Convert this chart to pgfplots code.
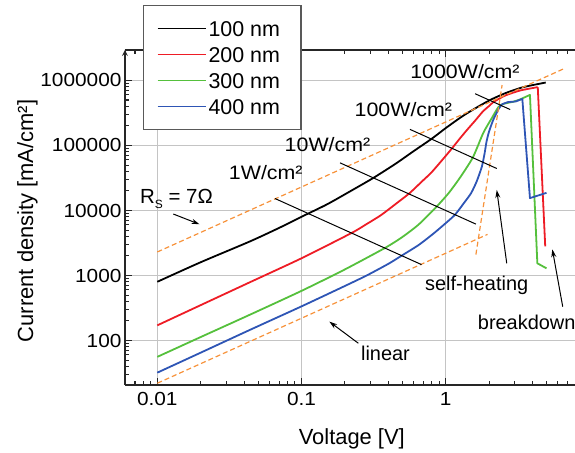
\documentclass[border=0pt]{standalone}
\usepackage{fontspec}
\setmainfont{Liberation Sans}
\newfontfamily\widesans[FakeStretch=1.1]{Liberation Sans}
\usepackage{pgfplots}
\pgfplotsset{compat=1.18}
\usetikzlibrary{arrows.meta}
\definecolor{cRed}{HTML}{EE1C25}
\definecolor{cGreen}{HTML}{55C03C}
\definecolor{cBlue}{HTML}{2E55B5}
\definecolor{cOrange}{HTML}{F7923A}
\definecolor{cGrid}{HTML}{C4C4C4}

\begin{document}
\begin{tikzpicture}
\begin{axis}[name=ax, scale only axis, width=450bp, height=335bp,
  xmode=log, ymode=log,
  xmin=0.00597, xmax=7.883, ymin=20.67, ymax=2.944e6,
  axis x line=box, axis y line=left,
  every non boxed y axis/.style={ytick align=inside},
  axis line style={black!85, line width=1.6bp},
  every tick/.style={black!85, line width=1.1bp},
  major tick length=7bp, minor tick length=4bp,
  tick align=inside,
  grid=major, major grid style={cGrid, line width=0.9bp},
  log ticks with fixed point,
  /pgf/number format/1000 sep={},
  /pgf/number format/assume math mode=true,
  tick label style={font=\widesans\fontsize{19}{22}\selectfont},
  xticklabel style={yshift=-4bp},
  label style={font=\fontsize{22}{26}\selectfont},
  xlabel={Voltage [V]},
  ylabel={Current density [mA/cm²]},
  xlabel style={at={(axis description cs:0.504,-0.178)}, anchor=base},
  ylabel style={at={(axis description cs:-0.2044,0.49)}, anchor=base},
  clip=false,
  legend image code/.code={\draw[#1] (0bp,0bp) -- (48bp,0bp);},
  legend cell align=left,
  legend style={at={(axis description cs:0.04,1.135)}, anchor=north west,
    font=\fontsize{21.5}{24}\selectfont, draw=black!65, line width=1.5bp,
    fill=white, inner xsep=13bp, inner ysep=14bp, row sep=8bp,
    nodes={inner xsep=2bp, inner ysep=0bp, text height=17bp, text depth=1bp}},
]
% measured curves
\addplot[black, line width=1.8bp, smooth, tension=0.4] coordinates {
  (0.01,800) (0.02,1600) (0.044,3350) (0.07,5400) (0.1,8000) (0.15,12400)
  (0.22,20000) (0.315,31700) (0.45,52500) (0.6,82000) (0.8,127000)
  (1.0,185000) (1.3,280000) (1.6,372000) (2.03,500000) (2.6,640000)
  (3.45,790000) (4.94,930000)};
\addlegendentry{100 nm\hspace*{6bp}}
\addplot[cRed, line width=1.8bp, smooth, tension=0.4] coordinates {
  (0.01,171) (0.02,350) (0.044,790) (0.1,1840) (0.223,4520) (0.28,6100)
  (0.355,8450) (0.45,12600) (0.562,18500) (0.68,27600) (0.794,38200)
  (0.93,57200) (1.1,89000) (1.25,127000) (1.41,175000) (1.6,241000)
  (1.82,338000) (2.0,405000) (2.14,465000) (2.35,525000) (2.6,590000)
  (3.27,700000) (4.35,790000)};
\addlegendentry{200 nm\hspace*{6bp}}
\addplot[cGreen, line width=1.8bp, smooth, tension=0.4] coordinates {
  (0.01,56) (0.02,113) (0.044,250) (0.1,580) (0.2,1240) (0.379,2650)
  (0.5,3900) (0.65,6100) (0.866,11500) (1.05,18600) (1.25,31500)
  (1.54,65000) (1.82,155000) (2.08,260000) (2.32,390000) (2.5,435000)
  (2.94,470000)};
\addlegendentry{300 nm\hspace*{6bp}}
\addplot[cBlue, line width=1.8bp, smooth, tension=0.4] coordinates {
  (0.01,32) (0.02,65) (0.044,146) (0.1,335) (0.2,690) (0.283,1000)
  (0.4,1510) (0.495,2020) (0.65,2950) (0.82,4390) (1.0,6380) (1.16,8600)
  (1.32,12500) (1.5,18500) (1.64,28000) (1.78,47000) (1.86,75000)
  (1.92,115000) (2.0,165000) (2.14,250000) (2.32,360000) (2.45,430000)};
\addlegendentry{400 nm\hspace*{6bp}}
% high-voltage parts (breakdown)
\addplot[forget plot, cRed, line width=1.8bp, line join=round] coordinates {
  (4.35,790000) (4.9,2800)};
\addplot[forget plot, cGreen, line width=1.8bp, line join=round] coordinates {
  (2.94,470000) (3.27,510000) (3.84,600000) (4.32,1540) (5.0,1290)};
\addplot[forget plot, cBlue, line width=1.8bp, line join=round] coordinates {
  (2.45,430000) (2.7,465000) (3.05,475000) (3.4,520000) (3.84,15500) (5.0,18700)};
% guide lines
\addplot[forget plot, cOrange, line width=1.2bp, dash pattern=on 5bp off 3bp]
  coordinates {(0.01,2300) (6.7,1540000)};
\addplot[forget plot, cOrange, line width=1.2bp, dash pattern=on 5bp off 3bp]
  coordinates {(0.01,22) (1.95,4290)};
\addplot[forget plot, cOrange, line width=1.2bp, dash pattern=on 5bp off 3bp]
  coordinates {(1.62,2100) (2.46,850000)};
% constant power lines
\addplot[forget plot, black, line width=1bp] coordinates {(0.0655,15270) (0.68,1470)};
\addplot[forget plot, black, line width=1bp] coordinates {(0.185,54054) (1.62,6173)};
\addplot[forget plot, black, line width=1bp] coordinates {(0.565,177000) (2.26,44250)};
\addplot[forget plot, black, line width=1bp] coordinates {(1.6,625000) (2.8,357000)};
% annotations
\node[anchor=base, font=\widesans\fontsize{19.5}{22}\selectfont] at (axis cs:1.36,1.09e6) {1000W/cm²};
\node[anchor=base, font=\widesans\fontsize{19.5}{22}\selectfont] at (axis cs:0.509,2.84e5) {100W/cm²};
\node[anchor=base, font=\widesans\fontsize{19.5}{22}\selectfont] at (axis cs:0.1514,8.04e4) {10W/cm²};
\node[anchor=base, font=\widesans\fontsize{19.5}{22}\selectfont] at (axis cs:0.0565,2.95e4) {1W/cm²};
\node[anchor=base west, inner sep=0pt, font=\fontsize{20.5}{24}\selectfont] at (axis cs:0.00759,1.259e4)
  {R\raisebox{-4.5bp}{\fontsize{12}{12}\selectfont S} = 7Ω};
\node[anchor=base, font=\fontsize{20}{24}\selectfont] at (axis cs:0.3825,50.1) {linear};
\node[anchor=base, font=\fontsize{20}{24}\selectfont] at (axis cs:1.64,583) {self-heating};
\node[anchor=base, font=\fontsize{20}{24}\selectfont] at (axis cs:3.645,148.6) {breakdown};
\draw[black, line width=1bp, -{Stealth[length=8bp, width=5bp]}] (axis cs:0.0129,8830) -- (axis cs:0.0196,6140);
\draw[black, line width=1bp, -{Stealth[length=8bp, width=5bp]}] (axis cs:0.248,90.6) -- (axis cs:0.156,195);
\draw[black, line width=1bp, -{Stealth[length=8bp, width=5bp]}] (axis cs:2.65,1540) -- (axis cs:2.26,20700);
\draw[black, line width=1bp, -{Stealth[length=8bp, width=5bp]}] (axis cs:6.48,331) -- (axis cs:5.49,2530);
\end{axis}
\pgfresetboundingbox
\path[use as bounding box] ([xshift=-125bp, yshift=-68bp]ax.south west) rectangle ([yshift=50bp]ax.north east);
\end{tikzpicture}
\end{document}
